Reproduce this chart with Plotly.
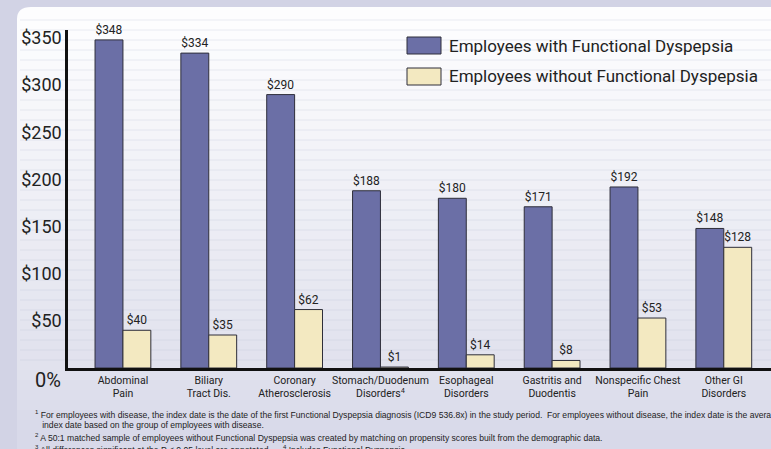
import plotly.graph_objects as go

categories = ["Abdominal<br>Pain", "Biliary<br>Tract Dis.", "Coronary<br>Atherosclerosis",
              "Stomach/Duodenum<br>Disorders<sup>4</sup>", "Esophageal<br>Disorders",
              "Gastritis and<br>Duodentis", "Nonspecific Chest<br>Pain", "Other GI<br>Disorders"]
with_fd = [348, 334, 290, 188, 180, 171, 192, 148]
without_fd = [40, 35, 62, 1, 14, 8, 53, 128]
series_names = ["Employees with Functional Dyspepsia", "Employees without Functional Dyspepsia"]
tick_vals = [50, 100, 150, 200, 250, 300, 350]
tick_text = ["$50", "$100", "$150", "$200", "$250", "$300", "$350"]
footnotes = [
    "<sup>1</sup> For employees with disease, the index date is the date of the first Functional Dyspepsia diagnosis (ICD9 536.8x) in the study period.  For employees without disease, the index date is the average",
    "   index date based on the group of employees with disease.",
    "<sup>2</sup> A 50:1 matched sample of employees without Functional Dyspepsia was created by matching on propensity scores built from the demographic data.",
    "<sup>3</sup> All differences significant at the P < 0.05 level are annotated.     <sup>4</sup> Includes Functional Dyspepsia.",
]

W, H = 771, 449
ML, MR, MT, MB = 68, 0, 30, 81
PW, PH = W - ML - MR, H - MT - MB

def px(x):
    return (x - ML) / PW

def py(y):
    return (H - MB - y) / PH

NARROW = "Roboto, Liberation Sans, sans-serif"
BLUE = "#6b6fa6"
CREAM = "#f3e9c1"

fig = go.Figure()
fig.add_trace(go.Bar(x=categories, y=with_fd, name=series_names[0],
                     marker=dict(color=BLUE, line=dict(color="#2e2e3a", width=1)),
                     texttemplate="$%{y}", textposition="outside",
                     textfont=dict(family=NARROW, size=12, color="#222"), cliponaxis=False))
fig.add_trace(go.Bar(x=categories, y=without_fd, name=series_names[1],
                     marker=dict(color=CREAM, line=dict(color="#2e2e3a", width=1)),
                     texttemplate="$%{y}", textposition="outside",
                     textfont=dict(family=NARROW, size=12, color="#222"), cliponaxis=False))

shapes = []
def lerp(c1, c2, t):
    return tuple(int(round(a + (b - a) * t)) for a, b in zip(c1, c2))

top_c, mid_c, bot_c = (253, 253, 254), (224, 225, 237), (216, 217, 233)
shapes.append(dict(type="path", xref="paper", yref="paper", layer="below",
                   path=f"M {px(17)},{py(H+5)} L {px(17)},{py(19)} Q {px(17)},{py(7)} {px(31)},{py(7)} L {px(W+5)},{py(7)} L {px(W+5)},{py(H+5)} Z",
                   fillcolor="rgb(%d,%d,%d)" % top_c, line=dict(width=0)))
y = 20
while y < H:
    if y <= 368:
        c = lerp(top_c, mid_c, (y - 20) / 348)
    else:
        c = lerp(mid_c, bot_c, min(1, (y - 368) / 60))
    shapes.append(dict(type="rect", xref="paper", yref="paper", layer="below",
                       x0=px(17), x1=px(W + 5), y0=py(y), y1=py(y + 10),
                       fillcolor="rgb(%d,%d,%d)" % c, line=dict(width=0)))
    y += 10
y = 20
while y < 370:
    shapes.append(dict(type="line", xref="paper", yref="paper", layer="below",
                       x0=px(20), x1=px(W + 5), y0=py(y), y1=py(y),
                       line=dict(color="rgba(190,192,215,0.3)", width=1)))
    y += 10

for i, col in enumerate([BLUE, CREAM]):
    y0 = 37 + i * 31
    shapes.append(dict(type="rect", xref="paper", yref="paper",
                       x0=px(407), x1=px(441), y0=py(y0), y1=py(y0 + 17),
                       fillcolor=col, line=dict(color="#2e2e3a", width=1)))

annotations = []
for i, name in enumerate(series_names):
    annotations.append(dict(x=px(447), y=py(46 + i * 30), xref="paper", yref="paper",
                            text=name, showarrow=False, xanchor="left", yanchor="middle",
                            font=dict(family=NARROW, size=17, color="#222")))
annotations.append(dict(x=px(63), y=py(380), xref="paper", yref="paper", text="0%",
                        showarrow=False, xanchor="right", yanchor="middle",
                        font=dict(family=NARROW, size=20, color="#222")))
for i, t in enumerate(footnotes):
    annotations.append(dict(x=px(33), y=py([414, 425, 437, 449][i]), xref="paper", yref="paper",
                            text=t, showarrow=False, xanchor="left", yanchor="middle",
                            font=dict(family="Liberation Sans, Arial, sans-serif", size=8.6, color="#222")))

fig.update_layout(
    width=W, height=H, margin=dict(l=ML, r=MR, t=MT, b=MB),
    paper_bgcolor="rgb(210,211,229)", plot_bgcolor="rgba(0,0,0,0)",
    barmode="group", bargap=0.35, bargroupgap=0,
    showlegend=False, shapes=shapes, annotations=annotations,
)
fig.update_xaxes(range=[-0.64, 7.55], showline=True, linecolor="#111", linewidth=3,
                 showgrid=False, ticks="", tickangle=0, automargin=False,
                 tickfont=dict(family=NARROW, size=10.5, color="#222"))
fig.update_yaxes(range=[0, 358.5], showline=True, linecolor="#111", linewidth=2.5,
                 showgrid=False, zeroline=False, tickvals=tick_vals, ticktext=tick_text, ticks="",
                 automargin=False, tickfont=dict(family=NARROW, size=18, color="#222"))

fig.write_html("out.html", config={"displayModeBar": False},
               post_script="document.body.style.margin='0px';document.body.style.overflow='hidden';")
